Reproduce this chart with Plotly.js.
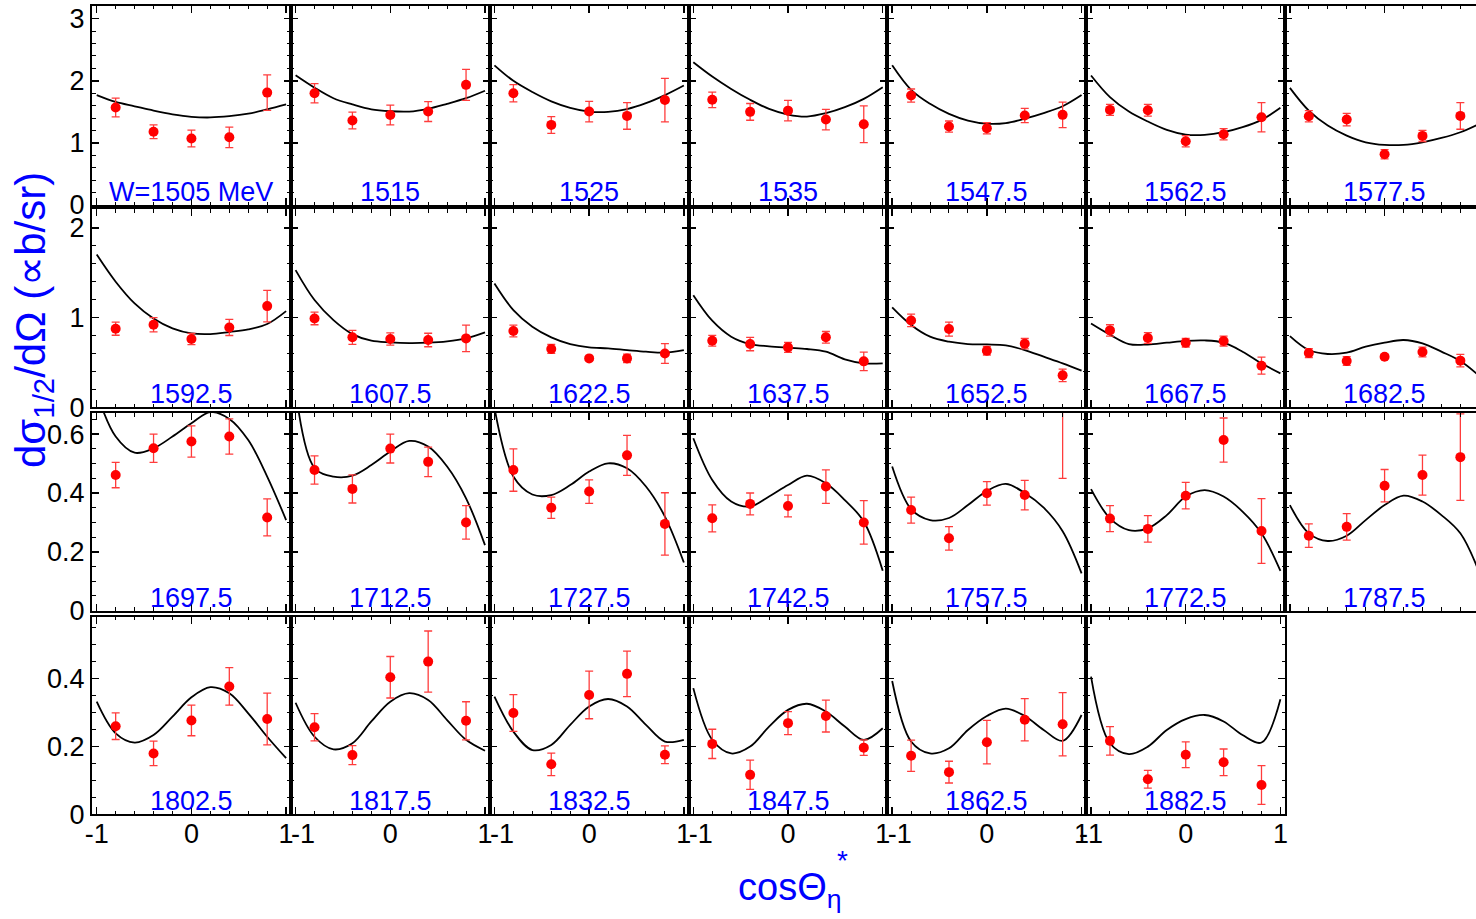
<!DOCTYPE html>
<html>
<head>
<meta charset="utf-8">
<script src="https://cdn.plot.ly/plotly-3.0.1.min.js"></script>
<style>
  html, body { margin: 0; padding: 0; overflow: hidden; background: #fff; }
  #chart { width: 1490px; height: 919px; }
</style>
</head>
<body>
<div id="chart"></div>
<script>
// Beam energies (MeV), one panel each
const energies = [1505, 1515, 1525, 1535, 1547.5, 1562.5, 1577.5,
                  1592.5, 1607.5, 1622.5, 1637.5, 1652.5, 1667.5, 1682.5,
                  1697.5, 1712.5, 1727.5, 1742.5, 1757.5, 1772.5, 1787.5,
                  1802.5, 1817.5, 1832.5, 1847.5, 1862.5, 1882.5];

// Angular bins of the measured points
const cosBins = [-0.8, -0.4, 0, 0.4, 0.8];

// Measured dσ1/2/dΩ per energy
const sigmaHalf = [
  [1.57, 1.18, 1.07, 1.09, 1.81],
  [1.80, 1.36, 1.45, 1.505, 1.935],
  [1.80, 1.29, 1.505, 1.435, 1.69],
  [1.694, 1.50, 1.52, 1.376, 1.30],
  [1.763, 1.263, 1.237, 1.441, 1.452],
  [1.532, 1.527, 1.027, 1.14, 1.414],
  [1.43, 1.376, 0.817, 1.113, 1.435],
  [0.876, 0.92, 0.761, 0.89, 1.128],
  [0.99, 0.78, 0.761, 0.75, 0.768],
  [0.85, 0.65, 0.545, 0.545, 0.60],
  [0.742, 0.705, 0.668, 0.78, 0.512],
  [0.968, 0.872, 0.631, 0.709, 0.356],
  [0.857, 0.772, 0.72, 0.738, 0.464],
  [0.605, 0.516, 0.564, 0.616, 0.52],
  [0.461, 0.552, 0.575, 0.592, 0.317],
  [0.478, 0.414, 0.551, 0.506, 0.30],
  [0.478, 0.35, 0.405, 0.528, 0.295],
  [0.314, 0.363, 0.356, 0.422, 0.30],
  [0.342, 0.246, 0.399, 0.393, 0.75],
  [0.313, 0.278, 0.391, 0.58, 0.271],
  [0.255, 0.285, 0.425, 0.461, 0.522],
  [0.259, 0.179, 0.276, 0.376, 0.28],
  [0.256, 0.174, 0.403, 0.449, 0.275],
  [0.298, 0.147, 0.351, 0.413, 0.175],
  [0.207, 0.116, 0.268, 0.289, 0.196],
  [0.172, 0.124, 0.212, 0.278, 0.265],
  [0.216, 0.103, 0.175, 0.153, 0.086]
];

// Statistical uncertainties
const sigmaHalfErr = [
  [0.15, 0.11, 0.135, 0.165, 0.285],
  [0.155, 0.135, 0.16, 0.16, 0.25],
  [0.14, 0.135, 0.165, 0.215, 0.35],
  [0.125, 0.135, 0.165, 0.165, 0.295],
  [0.105, 0.09, 0.09, 0.115, 0.205],
  [0.09, 0.095, 0.09, 0.09, 0.235],
  [0.09, 0.1, 0.075, 0.09, 0.215],
  [0.073, 0.08, 0.063, 0.09, 0.175],
  [0.07, 0.078, 0.068, 0.075, 0.147],
  [0.065, 0.05, 0.02, 0.047, 0.11],
  [0.06, 0.075, 0.056, 0.065, 0.104],
  [0.07, 0.078, 0.048, 0.058, 0.07],
  [0.063, 0.06, 0.048, 0.055, 0.095],
  [0.05, 0.048, 0.02, 0.055, 0.07],
  [0.043, 0.048, 0.053, 0.06, 0.063],
  [0.048, 0.048, 0.049, 0.05, 0.057],
  [0.072, 0.036, 0.04, 0.068, 0.106],
  [0.046, 0.037, 0.037, 0.057, 0.074],
  [0.044, 0.04, 0.04, 0.05, 0.30],
  [0.044, 0.045, 0.045, 0.075, 0.11],
  [0.04, 0.045, 0.055, 0.068, 0.147],
  [0.039, 0.036, 0.045, 0.055, 0.076],
  [0.04, 0.028, 0.061, 0.09, 0.056],
  [0.054, 0.033, 0.07, 0.067, 0.026],
  [0.043, 0.043, 0.034, 0.047, 0.023],
  [0.046, 0.032, 0.064, 0.062, 0.093],
  [0.042, 0.026, 0.038, 0.039, 0.057]
];

// Model curve sampled on a fixed cos grid
const cosGrid = [-1, -0.8, -0.6, -0.4, -0.2, 0, 0.2, 0.4, 0.6, 0.8, 1];
const modelCurve = [
  [1.77, 1.66, 1.59, 1.52, 1.46, 1.42, 1.41, 1.43, 1.47, 1.54, 1.62],
  [2.09, 1.89, 1.72, 1.62, 1.54, 1.51, 1.505, 1.55, 1.63, 1.72, 1.84],
  [2.25, 2.0, 1.82, 1.67, 1.565, 1.505, 1.5, 1.545, 1.64, 1.77, 1.925],
  [2.30, 2.07, 1.87, 1.694, 1.548, 1.457, 1.425, 1.478, 1.575, 1.71, 1.898],
  [2.25, 1.855, 1.63, 1.468, 1.36, 1.31, 1.32, 1.39, 1.48, 1.59, 1.77],
  [2.086, 1.737, 1.505, 1.344, 1.21, 1.134, 1.129, 1.172, 1.253, 1.371, 1.565],
  [1.887, 1.52, 1.28, 1.118, 1.01, 0.968, 0.968, 1.01, 1.08, 1.172, 1.306],
  [1.703, 1.40, 1.158, 0.99, 0.88, 0.824, 0.816, 0.839, 0.868, 0.928, 1.072],
  [1.529, 1.195, 0.972, 0.816, 0.742, 0.724, 0.716, 0.72, 0.735, 0.768, 0.835],
  [1.38, 1.083, 0.898, 0.78, 0.705, 0.668, 0.657, 0.638, 0.62, 0.609, 0.638],
  [1.25, 0.965, 0.787, 0.705, 0.68, 0.664, 0.65, 0.62, 0.535, 0.49, 0.49],
  [1.113, 0.917, 0.787, 0.731, 0.705, 0.701, 0.69, 0.638, 0.564, 0.49, 0.408],
  [0.935, 0.81, 0.705, 0.70, 0.72, 0.74, 0.745, 0.72, 0.62, 0.49, 0.378],
  [0.794, 0.638, 0.594, 0.609, 0.675, 0.72, 0.75, 0.712, 0.62, 0.516, 0.35],
  [0.74, 0.592, 0.537, 0.552, 0.592, 0.637, 0.675, 0.652, 0.58, 0.456, 0.308],
  [0.75, 0.485, 0.456, 0.459, 0.495, 0.541, 0.577, 0.558, 0.49, 0.382, 0.223],
  [0.69, 0.456, 0.395, 0.393, 0.427, 0.473, 0.501, 0.484, 0.422, 0.32, 0.164],
  [0.586, 0.444, 0.371, 0.354, 0.388, 0.427, 0.459, 0.433, 0.376, 0.303, 0.136],
  [0.49, 0.345, 0.308, 0.315, 0.359, 0.407, 0.431, 0.40, 0.35, 0.27, 0.127],
  [0.413, 0.314, 0.274, 0.28, 0.325, 0.388, 0.41, 0.388, 0.337, 0.263, 0.135],
  [0.359, 0.263, 0.237, 0.255, 0.308, 0.359, 0.391, 0.371, 0.325, 0.263, 0.13],
  [0.331, 0.238, 0.211, 0.233, 0.287, 0.344, 0.374, 0.356, 0.297, 0.228, 0.165],
  [0.328, 0.228, 0.191, 0.209, 0.273, 0.331, 0.356, 0.336, 0.277, 0.219, 0.187],
  [0.346, 0.243, 0.189, 0.204, 0.263, 0.317, 0.339, 0.317, 0.263, 0.214, 0.219],
  [0.371, 0.219, 0.179, 0.199, 0.258, 0.307, 0.325, 0.302, 0.258, 0.219, 0.253],
  [0.392, 0.214, 0.179, 0.194, 0.248, 0.289, 0.311, 0.289, 0.248, 0.216, 0.292],
  [0.405, 0.209, 0.177, 0.199, 0.248, 0.28, 0.292, 0.273, 0.233, 0.211, 0.338]
];

// Axis ticks
const xTickVals = [-1, 0, 1];
const xTickText = ['-1', '0', '1'];
const xTickTextInner = ['\u00a0\u00a0-1', '0', '1'];
const rowTickVals = [[0, 1, 2, 3], [0, 1, 2], [0, 0.2, 0.4, 0.6], [0, 0.2, 0.4]];
const rowTickText = [['0', '1', '2', '3'], ['0', '1', '2'], ['0', '0.2', '0.4', '0.6'], ['0', '0.2', '0.4']];

// ---- page geometry (pixels) ----
const W = 1490, H = 919;
const gridLeft = 92, colWidth = 198.86, nCols = 7;
const rowTop = [5.7, 209, 413, 616.7];
const rowBottom = [205, 407.3, 610.7, 814.3];
const rowYMax = [3.21, 2.21, 0.672, 0.581];
const rowMinor = [0.2, 0.2, 0.05, 0.05];

const FONT = 'Liberation Sans, Arial, Helvetica, sans-serif';
const BLUE = '#0000ff';

const traces = [];
const layout = {
  width: W, height: H,
  margin: {l: 0, r: 0, t: 0, b: 0},
  paper_bgcolor: '#fff', plot_bgcolor: '#fff',
  showlegend: false,
  font: {family: FONT, color: '#000', size: 27},
  annotations: []
};

energies.forEach((e, i) => {
  const r = Math.floor(i / nCols), c = i % nCols;
  const n = i === 0 ? '' : String(i + 1);
  const xName = 'x' + n, yName = 'y' + n;

  traces.push({
    x: cosGrid, y: modelCurve[i], xaxis: xName, yaxis: yName,
    type: 'scatter', mode: 'lines',
    line: {color: '#000', width: 1.8, shape: 'spline', smoothing: 1},
    hoverinfo: 'skip'
  });
  traces.push({
    x: cosBins, y: sigmaHalf[i], xaxis: xName, yaxis: yName,
    type: 'scatter', mode: 'markers',
    marker: {color: '#ff0000', size: 10},
    error_y: {type: 'data', array: sigmaHalfErr[i], visible: true,
              color: '#ff3c3c', thickness: 1.3, width: 4}
  });

  const axisCommon = {
    showline: true, linecolor: '#000', linewidth: 2, mirror: 'allticks',
    ticks: 'inside', ticklen: 7, tickwidth: 1.5, tickcolor: '#000',
    showgrid: false, zeroline: false, fixedrange: true,
    tickfont: {family: FONT, size: 27, color: '#000'}
  };

  layout['xaxis' + n] = Object.assign({}, axisCommon, {
    domain: [(gridLeft + c * colWidth) / W, (gridLeft + (c + 1) * colWidth) / W],
    range: [-1.05, 1.05], anchor: yName,
    tickmode: 'array', tickvals: xTickVals,
    ticktext: (c >= 1 && c <= 4) ? xTickTextInner : xTickText,
    showticklabels: r === 3,
    ticklabelstandoff: -6,
    minor: {dtick: 0.2, tick0: 0, ticks: 'inside', ticklen: 3.5, tickwidth: 1, tickcolor: '#000'}
  });
  layout['yaxis' + n] = Object.assign({}, axisCommon, {
    domain: [1 - rowBottom[r] / H, 1 - rowTop[r] / H],
    range: [0, rowYMax[r]], anchor: xName,
    tickmode: 'array', tickvals: rowTickVals[r], ticktext: rowTickText[r],
    showticklabels: c === 0,
    minor: {dtick: rowMinor[r], tick0: 0, ticks: 'inside', ticklen: 3.5, tickwidth: 1, tickcolor: '#000'}
  });

  layout.annotations.push({
    text: i === 0 ? 'W=1505 MeV' : String(e),
    xref: xName, x: 0, yref: yName + ' domain', y: 0.066,
    xanchor: 'center', yanchor: 'middle', showarrow: false,
    font: {family: FONT, size: 27, color: BLUE}
  });
});

// Axis titles
layout.annotations.push({
  text: 'dσ<sub>1/2</sub>/dΩ (∝b/sr)',
  xref: 'paper', yref: 'paper', x: 34 / W, y: 1 - 320 / H,
  xanchor: 'center', yanchor: 'middle', textangle: -90, showarrow: false,
  font: {family: FONT, size: 42, color: BLUE}
});
layout.annotations.push({
  text: 'cosΘ<sub>η</sub>',
  xref: 'paper', yref: 'paper', x: 790 / W, y: 1 - 890 / H,
  xanchor: 'center', yanchor: 'middle', showarrow: false,
  font: {family: FONT, size: 38, color: BLUE}
});
layout.annotations.push({
  text: '*',
  xref: 'paper', yref: 'paper', x: 842 / W, y: 1 - 860 / H,
  xanchor: 'center', yanchor: 'middle', showarrow: false,
  font: {family: FONT, size: 28, color: BLUE}
});

Plotly.newPlot('chart', traces, layout, {staticPlot: true, displayModeBar: false});
</script>
</body>
</html>
